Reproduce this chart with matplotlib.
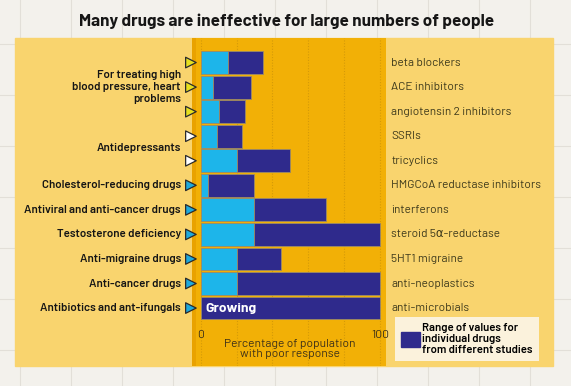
import matplotlib.pyplot as plt
from matplotlib.patches import Rectangle, Patch
from matplotlib.lines import Line2D

# data (percent of population with poor response)
drug_classes = ["beta blockers", "ACE inhibitors", "angiotensin 2 inhibitors", "SSRIs",
                "tricyclics", "HMGCoA reductase inhibitors", "interferons",
                "steroid 5\u03b1-reductase", "5HT1 migraine", "anti-neoplastics",
                "anti-microbials"]
low = [15, 7, 10, 9, 20, 4, 30, 30, 20, 20, 0]
high = [35, 28, 25, 23, 50, 30, 70, 100, 45, 100, 100]

group_labels = ["For treating high\nblood pressure, heart\nproblems", "Antidepressants",
                "Cholesterol-reducing drugs", "Antiviral and anti-cancer drugs",
                "Testosterone deficiency", "Anti-migraine drugs", "Anti-cancer drugs",
                "Antibiotics and ant-ifungals"]
group_rows = [1, 3.5, 5, 6, 7, 8, 9, 10]
marker_colors = ["#E6E01E"] * 3 + ["white"] * 2 + ["#1EA9DC"] * 6

plt.rcParams["font.family"] = ["Barlow", "DejaVu Sans"]

W, H = 571, 386
fig = plt.figure(figsize=(W / 100, H / 100), dpi=100)
fig.patch.set_facecolor("#F3F1EC")

# faint graph-paper grid behind everything
for x in range(20, W, 51):
    fig.add_artist(Line2D([x / W, x / W], [0, 1], color="#E2DFD8", lw=0.8, zorder=0))
for y in range(350, 0, -51):
    fig.add_artist(Line2D([0, 1], [1 - y / H, 1 - y / H], color="#E2DFD8", lw=0.8, zorder=0))

# light yellow panel
fig.add_artist(Rectangle((15 / W, 20 / H), 538 / W, 328 / H, color="#F9D46E", zorder=0.5))

fig.text(287 / W, 1 - 21 / H, "Many drugs are ineffective for large numbers of people",
         ha="center", va="center", fontsize=12.3, fontweight="bold", color="#161616")

ax = fig.add_axes([192 / W, 20 / H, 194 / W, 328 / H])
ax.set_zorder(2)
ax.set_facecolor("#F2B006")
ax.set_xlim(-4.8, 103.3)
ax.set_ylim(12.36, -1.0)
for s in ax.spines.values():
    s.set_visible(False)
ax.set_xticks([])
ax.set_yticks([])

# darker strip along the left edge of the plot area
ax.axvspan(-4.8, -2.6, color="#E9A200", lw=0, zorder=0.5)

for g in [0, 20, 40, 60, 80, 100]:
    ax.axvline(g, color="#D49A08", lw=0.8, ls=(0, (1, 1.5)), zorder=1)

rows = list(range(len(drug_classes)))
ax.barh(rows, low, height=0.93, color="#1DB5EA", edgecolor="#9C8A66", lw=0.6, zorder=2)
ax.barh(rows, [h - l for h, l in zip(high, low)], left=low, height=0.93,
        color="#2F2A8C", edgecolor="#9C8A66", lw=0.6, zorder=2)
ax.text(2.8, rows[-1], "Growing", color="white", fontsize=10, fontweight="bold",
        va="center", ha="left", zorder=3)

ax.scatter([-5.4] * len(rows), rows, marker=">", s=58, c=marker_colors,
           edgecolors="#2A2A2A", linewidths=0.9, clip_on=False, zorder=4)

for lab, r in zip(group_labels, group_rows):
    ax.text(-11.0, r, lab, ha="right", va="center", fontsize=8.3, fontweight="semibold",
            color="#151515", linespacing=1.25, clip_on=False)

for lab, r in zip(drug_classes, rows):
    ax.text(106.3, r, lab, ha="left", va="center", fontsize=8.5, color="#3E3A1C",
            clip_on=False)

ax.text(0, 11.1, "0", ha="center", va="center", fontsize=8.8, color="#3F3218")
ax.text(100, 11.1, "100", ha="center", va="center", fontsize=8.8, color="#3F3218")
ax.text(49.6, 11.65, "Percentage of population\nwith poor response", ha="center",
        va="center", fontsize=8.7, color="#3F3218", linespacing=1.0)

leg = ax.legend(handles=[Patch(facecolor="#2F2A8C", edgecolor="#2F2A8C")],
                labels=["Range of values for\nindividual drugs\nfrom different studies"],
                loc="upper left", bbox_to_anchor=(395 / W, 1 - 317 / H),
                bbox_transform=fig.transFigure, frameon=True, fancybox=False,
                handlelength=1.7, handleheight=1.7, handletextpad=0.2, borderpad=0.5,
                borderaxespad=0, prop={"size": 8.2, "weight": "semibold"})
leg.get_frame().set_facecolor("#FBF2DC")
leg.get_frame().set_edgecolor("none")
leg.get_frame().set_alpha(1)
for t in leg.get_texts():
    t.set_linespacing(1.15)

fig.savefig("out.png", dpi=100, facecolor=fig.get_facecolor())
